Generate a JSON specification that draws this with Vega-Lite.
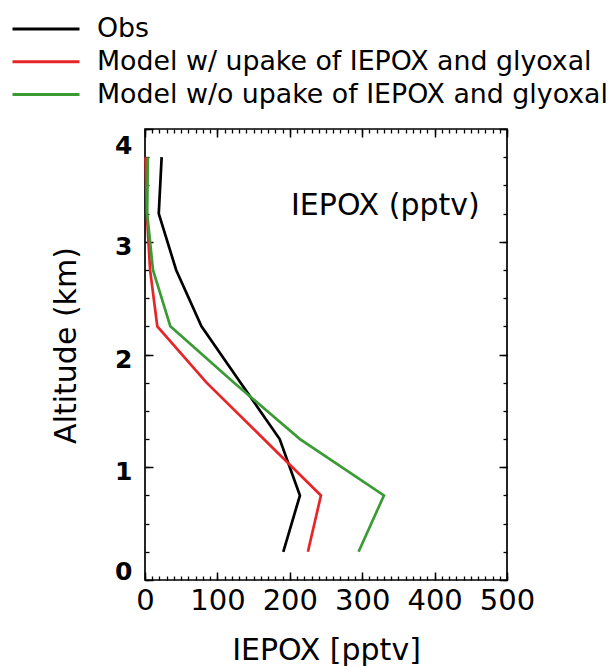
{
  "$schema": "https://vega.github.io/schema/vega-lite/v6.json",
  "autosize": {"type": "none"},
  "padding": {"left": 145, "top": 129, "right": 105, "bottom": 86},
  "width": 362,
  "height": 451,
  "config": {
    "view": {"stroke": "black", "strokeWidth": 1.7},
    "font": "DejaVu Sans"
  },
  "data": {
    "values": [
      {"series": "Obs", "alt": 0.25, "v": 191},
      {"series": "Obs", "alt": 0.75, "v": 214},
      {"series": "Obs", "alt": 1.25, "v": 186},
      {"series": "Obs", "alt": 1.75, "v": 132},
      {"series": "Obs", "alt": 2.25, "v": 78},
      {"series": "Obs", "alt": 2.75, "v": 43},
      {"series": "Obs", "alt": 3.25, "v": 19},
      {"series": "Obs", "alt": 3.75, "v": 23},
      {"series": "Model w/ upake of IEPOX and glyoxal", "alt": 0.25, "v": 225},
      {"series": "Model w/ upake of IEPOX and glyoxal", "alt": 0.75, "v": 243},
      {"series": "Model w/ upake of IEPOX and glyoxal", "alt": 1.25, "v": 164},
      {"series": "Model w/ upake of IEPOX and glyoxal", "alt": 1.75, "v": 85},
      {"series": "Model w/ upake of IEPOX and glyoxal", "alt": 2.25, "v": 17},
      {"series": "Model w/ upake of IEPOX and glyoxal", "alt": 2.75, "v": 7},
      {"series": "Model w/ upake of IEPOX and glyoxal", "alt": 3.25, "v": 2.5},
      {"series": "Model w/ upake of IEPOX and glyoxal", "alt": 3.75, "v": 0.8},
      {"series": "Model w/o upake of IEPOX and glyoxal", "alt": 0.25, "v": 295},
      {"series": "Model w/o upake of IEPOX and glyoxal", "alt": 0.75, "v": 330},
      {"series": "Model w/o upake of IEPOX and glyoxal", "alt": 1.25, "v": 214},
      {"series": "Model w/o upake of IEPOX and glyoxal", "alt": 1.75, "v": 123},
      {"series": "Model w/o upake of IEPOX and glyoxal", "alt": 2.25, "v": 35},
      {"series": "Model w/o upake of IEPOX and glyoxal", "alt": 2.75, "v": 11},
      {"series": "Model w/o upake of IEPOX and glyoxal", "alt": 3.25, "v": 3},
      {"series": "Model w/o upake of IEPOX and glyoxal", "alt": 3.75, "v": 4}
    ]
  },
  "resolve": {"axis": {"x": "independent", "y": "independent"}},
  "layer": [
    {
      "mark": {"type": "line", "strokeWidth": 2.7},
      "encoding": {
        "x": {
          "field": "v", "type": "quantitative",
          "scale": {"domain": [0, 500], "nice": false, "zero": false},
          "axis": {
            "orient": "bottom", "tickSize": 8, "offset": -8, "tickColor": "black", "tickWidth": 1.5,
            "gridOpacity": 0, "domainOpacity": 0, "tickCount": 5,
            "labelFont": "DejaVu Sans", "labelFontSize": 29, "labelColor": "black", "labelPadding": 6,
            "labelFlush": false,
            "title": "IEPOX [pptv]", "titleFont": "DejaVu Sans", "titleFontSize": 30, "titleFontWeight": "normal",
            "titleColor": "black", "titleBaseline": "alphabetic", "titleY": 87
          }
        },
        "y": {
          "field": "alt", "type": "quantitative",
          "scale": {"domain": [0, 4], "nice": false, "zero": false},
          "axis": {
            "orient": "left", "tickSize": 8, "offset": -8, "tickColor": "black", "tickWidth": 1.5,
            "gridOpacity": 0, "domainOpacity": 0, "tickCount": 4,
            "labelFont": "DejaVu Sans", "labelFontSize": 25, "labelFontWeight": "bold", "labelColor": "black",
            "labelPadding": 13, "labelFlush": true, "labelOffset": 4.5,
            "title": "Altitude (km)", "titleFont": "DejaVu Sans", "titleFontSize": 30, "titleFontWeight": "normal",
            "titleColor": "black", "titleBaseline": "alphabetic", "titleX": -78, "titleY": 216
          }
        },
        "order": {"field": "alt", "type": "quantitative"},
        "color": {
          "field": "series", "type": "nominal",
          "scale": {
            "domain": ["Obs", "Model w/ upake of IEPOX and glyoxal", "Model w/o upake of IEPOX and glyoxal"],
            "range": ["#000000", "#e52528", "#3a9b35"]
          },
          "legend": {
            "orient": "none", "legendX": -114, "legendY": -115, "title": null, "padding": 0,
            "symbolType": "M-2.5,0H2.5", "symbolSize": 718, "symbolStrokeWidth": 3,
            "labelFont": "DejaVu Sans", "labelFontSize": 26.8, "labelColor": "black", "labelLimit": 700,
            "labelOffset": 36, "rowPadding": 3.8
          }
        }
      }
    },
    {
      "mark": {"type": "point", "opacity": 0},
      "encoding": {
        "x": {"field": "v", "type": "quantitative",
          "axis": {"orient": "bottom", "labels": false, "title": null, "tickSize": 4, "offset": -4,
            "tickColor": "black", "tickWidth": 1.3, "gridOpacity": 0, "domainOpacity": 0, "tickCount": 50}},
        "y": {"field": "alt", "type": "quantitative",
          "axis": {"orient": "left", "labels": false, "title": null, "tickSize": 4, "offset": -4,
            "tickColor": "black", "tickWidth": 1.3, "gridOpacity": 0, "domainOpacity": 0,
            "values": [0,0.25,0.5,0.75,1,1.25,1.5,1.75,2,2.25,2.5,2.75,3,3.25,3.5,3.75,4]}}
      }
    },
    {
      "mark": {"type": "point", "opacity": 0},
      "encoding": {
        "x": {"field": "v", "type": "quantitative",
          "axis": {"orient": "top", "labels": false, "title": null, "tickSize": 8, "offset": -8,
            "tickColor": "black", "tickWidth": 1.5, "gridOpacity": 0, "domainOpacity": 0, "tickCount": 5}},
        "y": {"field": "alt", "type": "quantitative",
          "axis": {"orient": "right", "labels": false, "title": null, "tickSize": 8, "offset": -8,
            "tickColor": "black", "tickWidth": 1.5, "gridOpacity": 0, "domainOpacity": 0, "tickCount": 4}}
      }
    },
    {
      "mark": {"type": "point", "opacity": 0},
      "encoding": {
        "x": {"field": "v", "type": "quantitative",
          "axis": {"orient": "top", "labels": false, "title": null, "tickSize": 4, "offset": -4,
            "tickColor": "black", "tickWidth": 1.3, "gridOpacity": 0, "domainOpacity": 0, "tickCount": 50}},
        "y": {"field": "alt", "type": "quantitative",
          "axis": {"orient": "right", "labels": false, "title": null, "tickSize": 4, "offset": -4,
            "tickColor": "black", "tickWidth": 1.3, "gridOpacity": 0, "domainOpacity": 0,
            "values": [0,0.25,0.5,0.75,1,1.25,1.5,1.75,2,2.25,2.5,2.75,3,3.25,3.5,3.75,4]}}
      }
    },
    {
      "data": {"values": [{"label": "IEPOX (pptv)"}]},
      "mark": {"type": "text", "font": "DejaVu Sans", "fontSize": 30, "color": "black", "align": "center", "baseline": "middle"},
      "encoding": {
        "text": {"field": "label", "type": "nominal"},
        "x": {"datum": 332, "type": "quantitative", "axis": null},
        "y": {"datum": 3.32, "type": "quantitative", "axis": null}
      }
    }
  ]
}
